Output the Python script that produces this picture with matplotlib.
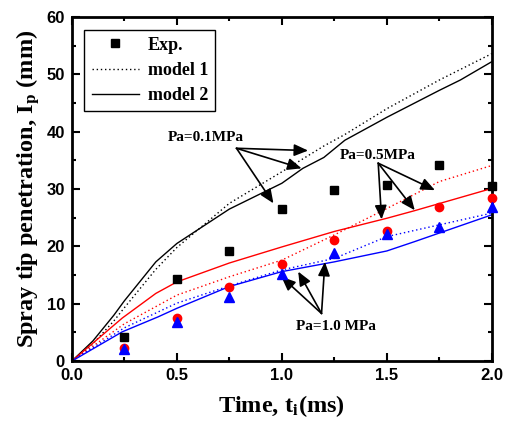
import numpy as np
import matplotlib
matplotlib.use('Agg')
import matplotlib.pyplot as plt
from matplotlib.ticker import MultipleLocator
from matplotlib.lines import Line2D

plt.rcParams['mathtext.fontset'] = 'stix'

# experimental points
t_exp = [0.25, 0.5, 0.75, 1.0, 1.25, 1.5, 1.75, 2.0]
exp_01 = [4.2, 14.3, 19.2, 26.5, 29.8, 30.7, 34.2, 30.5]
exp_05 = [2.3, 7.5, 12.9, 17.0, 21.1, 22.7, 26.9, 28.5]
exp_10 = [2.1, 6.9, 11.2, 15.1, 18.9, 22.1, 23.3, 26.9]

# model curves, Pa = 0.1 MPa
t_01_m2 = [0, 0.1, 0.2, 0.25, 0.4, 0.5, 0.75, 1.0, 1.1, 1.2, 1.3, 1.5, 1.75, 1.85, 2.0]
pa01_m2 = [0, 3.5, 8.0, 10.5, 17.3, 20.5, 26.5, 31.0, 33.6, 35.5, 38.5, 42.5, 47.2, 49.0, 52.2]
t_01_m1 = [0, 0.1, 0.2, 0.25, 0.4, 0.5, 0.75, 1.0, 1.2, 1.3, 1.5, 1.75, 2.0]
pa01_m1 = [0, 3.0, 7.0, 9.3, 16.0, 19.8, 27.5, 33.0, 37.5, 39.5, 44.0, 49.0, 53.6]

# Pa = 0.5 MPa
t_05_m2 = [0, 0.24, 0.4, 0.5, 0.75, 1.0, 1.25, 1.5, 1.63, 2.0]
pa05_m2 = [0, 7.5, 11.8, 13.8, 17.1, 19.9, 22.6, 24.9, 26.2, 30.1]
t_05_m1 = [0, 0.25, 0.5, 0.75, 1.0, 1.25, 1.5, 1.75, 2.0]
pa05_m1 = [0, 6.5, 11.5, 14.7, 17.6, 22.0, 26.6, 31.3, 34.1]

# Pa = 1.0 MPa
t_10_m2 = [0, 0.24, 0.41, 0.5, 0.75, 1.0, 1.25, 1.5, 1.63, 2.0]
pa10_m2 = [0, 5.1, 7.7, 9.2, 13.0, 15.6, 17.3, 19.2, 20.8, 25.5]
t_10_m1 = [0, 0.25, 0.5, 0.75, 1.0, 1.25, 1.5, 2.0]
pa10_m1 = [0, 5.8, 10.1, 13.1, 15.9, 17.9, 21.7, 25.8]

serif = 'Liberation Serif'
sans = 'Liberation Sans'
dots = (0, (1, 2))

fig = plt.figure(figsize=(5.06, 4.34), dpi=100)
ax = fig.add_axes([0.142, 0.168, 0.830, 0.793])

ax.plot(t_01_m1, pa01_m1, color='black', ls=dots, lw=1)
ax.plot(t_01_m2, pa01_m2, color='black', ls='-', lw=1)
ax.plot(t_05_m1, pa05_m1, color='red', ls=dots, lw=1)
ax.plot(t_05_m2, pa05_m2, color='red', ls='-', lw=1)
ax.plot(t_10_m1, pa10_m1, color='blue', ls=dots, lw=1)
ax.plot(t_10_m2, pa10_m2, color='blue', ls='-', lw=1)

ax.plot(t_exp, exp_01, 's', color='black', ms=6, clip_on=False, zorder=5)
ax.plot(t_exp, exp_05, 'o', color='red', ms=6, clip_on=False, zorder=5)
ax.plot(t_exp, exp_10, '^', color='blue', ms=7, clip_on=False, zorder=6)

# annotations with arrows
arr = dict(arrowstyle='-|>,head_length=0.7,head_width=0.3', color='black', lw=1.2,
           shrinkA=0, shrinkB=0, mutation_scale=12)
ax.text(0.638, 39.0, 'Pa=0.1MPa', ha='center', va='center', fontsize=11,
        fontweight='bold', family=serif)
for xy in [(1.125, 36.7), (1.094, 33.6), (0.96, 27.5)]:
    ax.annotate('', xy=xy, xytext=(0.784, 37.1), arrowprops=arr)

ax.text(1.457, 35.9, 'Pa=0.5MPa', ha='center', va='center', fontsize=11,
        fontweight='bold', family=serif)
for xy in [(1.729, 29.8), (1.633, 26.3), (1.475, 24.7)]:
    ax.annotate('', xy=xy, xytext=(1.459, 34.5), arrowprops=arr)

ax.text(1.257, 6.0, 'Pa=1.0 MPa', ha='center', va='center', fontsize=11,
        fontweight='bold', family=serif)
for xy in [(0.998, 14.7), (1.078, 15.6), (1.205, 17.3)]:
    ax.annotate('', xy=xy, xytext=(1.189, 8.3), arrowprops=arr)

ax.set_xlim(0, 2.0)
ax.set_ylim(0, 60)
ax.xaxis.set_major_locator(MultipleLocator(0.5))
ax.xaxis.set_minor_locator(MultipleLocator(0.25))
ax.yaxis.set_major_locator(MultipleLocator(10))
ax.yaxis.set_minor_locator(MultipleLocator(5))
ax.tick_params(which='both', direction='in', top=True, right=True, width=1.5)
ax.tick_params(which='major', length=6, labelsize=12, pad=5)
ax.tick_params(which='minor', length=3)
for lab in ax.get_xticklabels() + ax.get_yticklabels():
    lab.set_fontfamily(sans)
    lab.set_fontweight('bold')
for s in ax.spines.values():
    s.set_linewidth(2)

ax.set_xlabel('Time, t$_\\mathbf{i}$(ms)', fontsize=17.5, fontweight='bold', family=serif,
              labelpad=7)
ax.set_ylabel('Spray tip penetration, I$_\\mathbf{p}$ (mm)', fontsize=17.5,
              fontweight='bold', family=serif, labelpad=4)

handles = [
    Line2D([], [], marker='s', color='black', ls='none', ms=6),
    Line2D([], [], color='black', ls=dots, lw=1),
    Line2D([], [], color='black', ls='-', lw=1),
]
leg = ax.legend(handles, ['Exp.', 'model 1', 'model 2'], loc='upper left',
                prop={'family': serif, 'weight': 'bold', 'size': 13},
                fancybox=False, edgecolor='black', framealpha=1,
                borderaxespad=0.7, borderpad=0.4, handlelength=2.6,
                handletextpad=0.5, labelspacing=0.45)
leg.get_frame().set_linewidth(1)

fig.savefig('out.png', dpi=100)
